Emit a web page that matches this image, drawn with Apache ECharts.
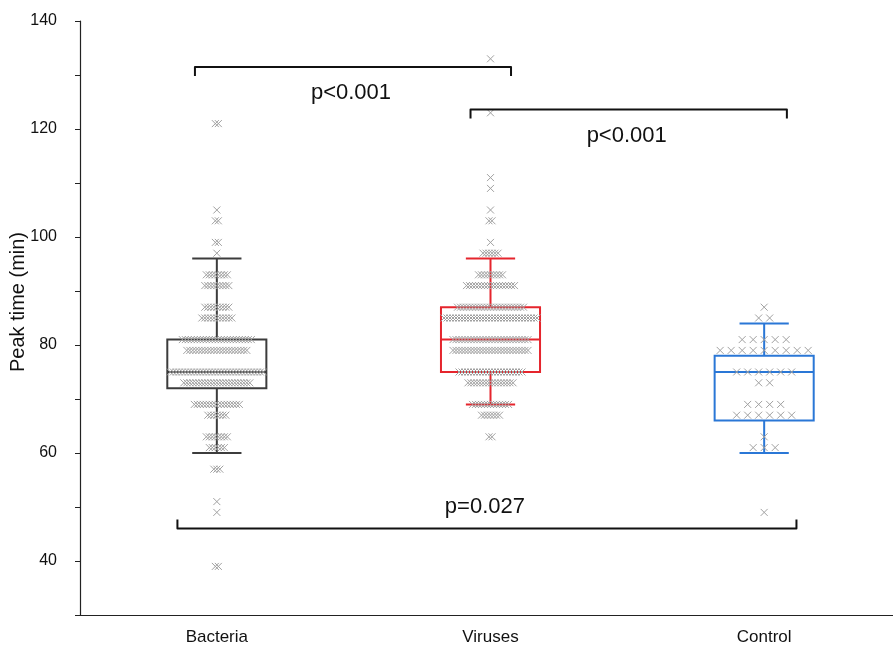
<!DOCTYPE html>
<html>
<head>
<meta charset="utf-8">
<title>Peak time by group</title>
<script src="https://cdn.jsdelivr.net/npm/echarts@6.0.0/dist/echarts.min.js"></script>
<style>
  html, body { margin: 0; padding: 0; background: #fff; }
  #chart { width: 893px; height: 646px; }
</style>
</head>
<body>
<div id="chart"></div>
<script>
const categories = ["Bacteria", "Viruses", "Control"];

// [lower whisker, Q1, median, Q3, upper whisker]
const bacteriaBox = [60, 72, 75, 81, 96];
const virusesBox = [69, 75, 81, 87, 96];
const controlBox = [60, 66, 75, 78, 84];

// [peak time (min), number of samples at that time]
const bacteriaPoints = [[121, 2], [105, 1], [103, 2], [99, 2], [97, 1], [93, 8], [91, 9], [87, 9], [85, 11],
  [81, 24], [79, 21], [75, 32], [73, 23], [69, 16], [67, 7], [63, 8], [61, 6], [57, 3], [51, 1], [49, 1], [39, 2]];
const virusesPoints = [[133, 1], [123, 1], [111, 1], [109, 1], [105, 1], [103, 2], [99, 1], [97, 6], [93, 9],
  [91, 17], [87, 23], [85, 32], [81, 26], [79, 26], [75, 22], [73, 16], [69, 13], [67, 7], [63, 2]];
const controlPoints = [[87, 1], [85, 2], [81, 5], [79, 9], [75, 6], [73, 2], [69, 4], [67, 6], [63, 1], [61, 3], [49, 1]];

const yTicks = [40, 60, 80, 100, 120, 140];

// significance brackets (x in group units, y in minutes)
const bracketFrom = [-0.08, 0.927, -0.144];
const bracketTo = [1.075, 2.083, 2.118];
const bracketY = [131.5, 123.6, 46];
const bracketText = ["p<0.001", "p<0.001", "p=0.027"];

const font = "Liberation Sans, Arial, sans-serif";
const boxColors = ["#3c3c3c", "#e5252d", "#2a77d6"];
const dotGap = [3, 3, 11]; // px between markers of one row
const bracketSide = [1, 1, -1]; // 1: ends hang down, text below

const boxData = [bacteriaBox, virusesBox, controlBox].map((b, i) => [i].concat(b));

const dotData = [];
[bacteriaPoints, virusesPoints, controlPoints].forEach((rows, g) => {
  rows.forEach(([v, n]) => {
    for (let k = 0; k < n; k++) dotData.push([g, v, k, n]);
  });
});

const bracketData = bracketFrom.map((f, i) => [f, bracketTo[i], bracketY[i], i]);

const chart = echarts.init(document.getElementById("chart"));

chart.setOption({
  animation: false,
  textStyle: { fontFamily: font },
  grid: { left: 80, right: -8, top: 21, bottom: 31, containLabel: false, outerBoundsMode: "none" },
  xAxis: [{
    type: "category",
    data: categories,
    boundaryGap: true,
    axisLine: { lineStyle: { color: "#222", width: 1.2 } },
    axisTick: { alignWithLabel: true, length: 6, lineStyle: { color: "#222" } },
    axisLabel: { fontSize: 17, color: "#111", margin: 14 },
    splitLine: { show: false }
  }, {
    type: "value",
    min: -0.5,
    max: 2.5,
    show: false
  }],
  yAxis: {
    type: "value",
    min: 30,
    max: 140,
    interval: 10,
    name: "Peak time (min)",
    nameLocation: "middle",
    nameRotate: 90,
    nameGap: 52,
    nameMoveOverlap: false,
    nameTextStyle: { fontSize: 20, color: "#111", padding: [0, 0, 0, 32] },
    axisLine: { show: true, onZero: false, lineStyle: { color: "#222", width: 1.2 } },
    axisTick: { show: true, length: 5, lineStyle: { color: "#222" } },
    axisLabel: {
      fontSize: 16,
      color: "#111",
      margin: 23,
      formatter: v => yTicks.includes(v) ? String(v) : ""
    },
    splitLine: { show: false }
  },
  series: [{
    name: "box",
    type: "custom",
    xAxisIndex: 1,
    data: boxData,
    encode: { x: 0, y: [1, 2, 3, 4, 5] },
    z: 2,
    renderItem(params, api) {
      const i = api.value(0);
      const lo = api.coord([i, api.value(1)]);
      const q1 = api.coord([i, api.value(2)]);
      const md = api.coord([i, api.value(3)]);
      const q3 = api.coord([i, api.value(4)]);
      const hi = api.coord([i, api.value(5)]);
      const band = api.size([1, 0])[0];
      const hw = band * 0.181;
      const cw = band * 0.09;
      const cx = md[0];
      const style = { stroke: boxColors[params.dataIndex], lineWidth: 2, fill: null };
      const line = (x1, y1, x2, y2) => ({ type: "line", shape: { x1, y1, x2, y2 }, style });
      return {
        type: "group",
        children: [
          line(cx, hi[1], cx, q3[1]),
          line(cx, q1[1], cx, lo[1]),
          line(cx - cw, hi[1], cx + cw, hi[1]),
          line(cx - cw, lo[1], cx + cw, lo[1]),
          { type: "rect", shape: { x: cx - hw, y: q3[1], width: 2 * hw, height: q1[1] - q3[1] }, style },
          line(cx - hw, md[1], cx + hw, md[1])
        ]
      };
    }
  }, {
    name: "samples",
    type: "custom",
    xAxisIndex: 1,
    data: dotData,
    encode: { x: 0, y: 1 },
    z: 3,
    renderItem(params, api) {
      const g = api.value(0);
      const p = api.coord([g, api.value(1)]);
      const x = p[0] + (api.value(2) - (api.value(3) - 1) / 2) * dotGap[g];
      const y = p[1];
      const r = 3.5;
      return {
        type: "group",
        children: [
          { type: "line", shape: { x1: x - r, y1: y - r, x2: x + r, y2: y + r }, style: { stroke: "#a0a0a0", lineWidth: 1 } },
          { type: "line", shape: { x1: x - r, y1: y + r, x2: x + r, y2: y - r }, style: { stroke: "#a0a0a0", lineWidth: 1 } }
        ]
      };
    }
  }, {
    name: "brackets",
    type: "custom",
    xAxisIndex: 1,
    data: bracketData,
    encode: { x: [0, 1], y: 2 },
    z: 4,
    renderItem(params, api) {
      const idx = api.value(3);
      const a = api.coord([api.value(0), api.value(2)]);
      const b = api.coord([api.value(1), api.value(2)]);
      const s = bracketSide[idx];
      const h = 9 * s;
      return {
        type: "group",
        children: [{
          type: "polyline",
          shape: { points: [[a[0], a[1] + h], [a[0], a[1]], [b[0], b[1]], [b[0], b[1] + h]] },
          style: { stroke: "#111", lineWidth: 2, fill: null, lineJoin: "round" }
        }, {
          type: "text",
          x: (a[0] + b[0]) / 2 - 2,
          y: a[1] + 24 * s + 2,
          style: {
            text: bracketText[idx],
            fontSize: 22,
            fontFamily: font,
            fill: "#111",
            align: "center",
            verticalAlign: "middle"
          }
        }]
      };
    }
  }]
});
</script>
</body>
</html>
